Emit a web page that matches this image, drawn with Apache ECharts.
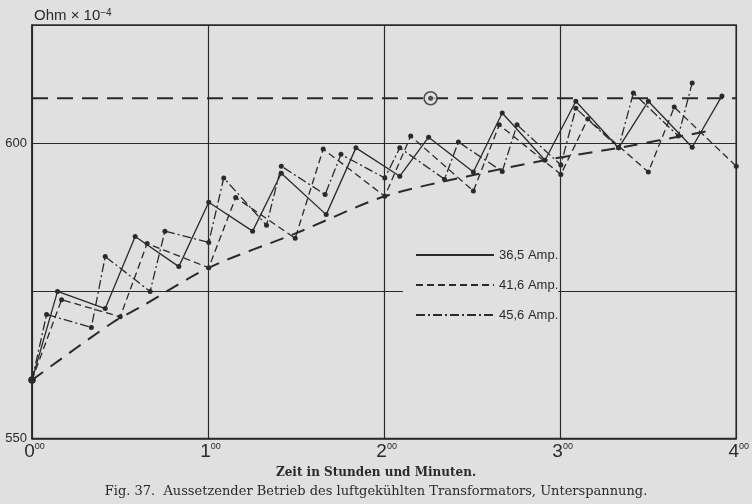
<!DOCTYPE html>
<html><head><meta charset="utf-8">
<script src="https://cdn.jsdelivr.net/npm/echarts@6/dist/echarts.min.js"></script>
<style>html,body{margin:0;padding:0;background:#e0e0e0;} #c{width:752px;height:504px;}</style>
</head><body><div id="c"></div>
<script>
// time in hours, resistance in Ohm x 10^-4
const solidX = [0, 0.145, 0.416, 0.586, 0.834, 1.004, 1.253, 1.416, 1.671, 1.840, 2.089, 2.253, 2.507, 2.671, 2.914, 3.089, 3.332, 3.501, 3.750, 3.919];
const solidY = [559.9, 574.9, 572.0, 584.2, 579.1, 590.0, 585.1, 594.9, 587.9, 599.2, 594.4, 601.0, 595.1, 605.1, 597.1, 607.1, 599.2, 607.1, 599.3, 608.0];
const dashX = [0, 0.168, 0.501, 0.654, 1.004, 1.157, 1.495, 1.654, 2.004, 2.151, 2.507, 2.654, 3.004, 3.157, 3.501, 3.648, 4.0];
const dashY = [559.9, 573.5, 570.6, 583.0, 578.9, 590.8, 583.9, 599.0, 591.0, 601.2, 591.9, 603.1, 594.7, 604.1, 595.1, 606.1, 596.1];
const dotX = [0, 0.083, 0.337, 0.416, 0.671, 0.755, 1.004, 1.089, 1.332, 1.416, 1.665, 1.755, 2.004, 2.089, 2.343, 2.422, 2.671, 2.755, 3.004, 3.089, 3.332, 3.416, 3.671, 3.750];
const dotY = [559.9, 571.0, 568.8, 580.8, 574.9, 585.1, 583.2, 594.1, 586.1, 596.1, 591.3, 598.1, 594.1, 599.2, 593.9, 600.2, 595.2, 603.1, 596.3, 605.9, 599.2, 608.5, 601.2, 610.2];
const curveX = [0, 0.456, 0.619, 1.004, 1.512, 2.004, 2.507, 2.913, 3.331, 3.869];
const curveY = [559.9, 569.6, 572.3, 578.9, 584.9, 591.0, 594.6, 597.1, 599.2, 602.2];
const limitX = [0, 4];
const limitY = [607.6, 607.6];
const markX = [2.264];
const markY = [607.6];
const seriesNames = ['36,5 Amp.', '41,6 Amp.', '45,6 Amp.'];
const xTicks = [0, 1, 2, 3, 4];
const yTicks = [550, 600];

const ink = '#2a2a2a';
const paper = '#e0e0e0';
const zip = (xs, ys) => xs.map((x, i) => [x, ys[i]]);

const chart = echarts.init(document.getElementById('c'), null, {renderer: 'canvas'});
function zig(name, xs, ys, dash) {
  return {
    type: 'line', name: name, data: zip(xs, ys),
    symbol: 'circle',
    symbolSize: (v, p) => p.dataIndex === 0 ? 7 : 5,
    lineStyle: {color: ink, width: 1.3, type: dash},
    itemStyle: {color: ink},
    z: 3
  };
}
chart.setOption({
  backgroundColor: paper,
  animation: false,
  title: [
    {text: '{a|Ohm × 10}{b|−4}', left: 29, top: 3,
     textStyle: {fontWeight: 'normal', rich: {a: {fontFamily: 'Liberation Sans', fontSize: 15, fontWeight: 'normal', color: ink},
                        b: {fontFamily: 'Liberation Sans', fontSize: 10, fontWeight: 'normal', color: ink, verticalAlign: 'top'}}}},
    {text: 'Zeit in Stunden und Minuten.', left: 'center', top: 462,
     textStyle: {fontFamily: 'DejaVu Serif', fontSize: 12, fontWeight: 'bold', color: ink}},
    {text: 'Fig. 37.  Aussetzender Betrieb des luftgekühlten Transformators, Unterspannung.', left: 'center', top: 480,
     textStyle: {fontFamily: 'DejaVu Serif', fontSize: 13, fontWeight: 'normal', color: ink}}
  ],
  grid: {left: 32, right: 12, top: 25, bottom: 65.5, show: true, borderColor: ink, borderWidth: 1.5, backgroundColor: 'transparent'},
  legend: {
    data: seriesNames, orient: 'vertical', left: 403, top: 241,
    itemWidth: 78, itemHeight: 4, itemGap: 14,
    padding: [6, 0, 6, 12],
    backgroundColor: paper,
    itemStyle: {opacity: 0},
    textStyle: {fontFamily: 'Liberation Sans', fontSize: 13, color: ink, lineHeight: 16}
  },
  xAxis: {
    type: 'value', min: 0, max: 4, interval: 1,
    axisLine: {show: true, lineStyle: {color: ink, width: 1.5}},
    axisTick: {show: false},
    splitLine: {show: true, lineStyle: {color: ink, width: 1.2}},
    axisLabel: {
      margin: 4,
      formatter: v => xTicks.indexOf(v) >= 0 ? '{m|' + v + '}{s|00}' : '',
      rich: {m: {fontFamily: 'Liberation Sans', fontSize: 19, color: ink, padding: [0, 0, 0, 5]},
             s: {fontFamily: 'Liberation Sans', fontSize: 9, color: ink, verticalAlign: 'top'}}
    }
  },
  yAxis: {
    type: 'value', min: 550, max: 620, interval: 25,
    axisLine: {show: true, lineStyle: {color: ink, width: 1.5}},
    axisTick: {show: false},
    splitLine: {show: true, lineStyle: {color: ink, width: 1.2}},
    axisLabel: {
      margin: 5, showMaxLabel: false,
      formatter: v => yTicks.indexOf(v) >= 0 ? String(v) : '',
      fontFamily: 'Liberation Sans', fontSize: 13, color: ink
    }
  },
  series: [
    zig(seriesNames[0], solidX, solidY, 'solid'),
    zig(seriesNames[1], dashX, dashY, [7, 4]),
    zig(seriesNames[2], dotX, dotY, [9, 3, 2, 3]),
    {type: 'line', name: 'Kurve', data: zip(curveX, curveY), smooth: 0.3, symbol: 'none',
     lineStyle: {color: ink, width: 2, type: [14, 9]}, z: 2},
    {type: 'line', name: 'Grenze', data: zip(limitX, limitY), symbol: 'none',
     lineStyle: {color: ink, width: 2, type: [16, 9]}, z: 2},
    {type: 'scatter', name: 'Punkt', data: zip(markX, markY), symbol: 'circle', symbolSize: 13,
     itemStyle: {color: paper, borderColor: ink, borderWidth: 1.6}, z: 4},
    {type: 'scatter', name: 'Punkt2', data: zip(markX, markY), symbol: 'circle', symbolSize: 5,
     itemStyle: {color: ink}, z: 5}
  ]
});
</script>
</body></html>
